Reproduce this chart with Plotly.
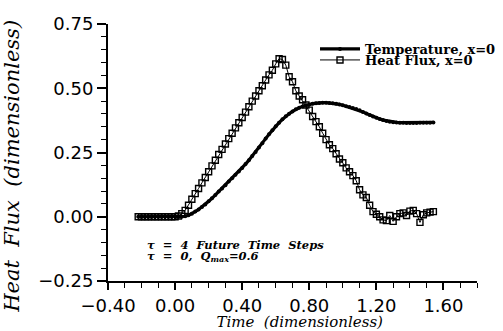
import plotly.graph_objects as go

time = [-0.22, -0.20, -0.18, -0.16, -0.14, -0.12, -0.10, -0.08, -0.06, -0.04,
        -0.02, 0.00, 0.02, 0.04, 0.06, 0.08, 0.10, 0.12, 0.14, 0.16,
        0.18, 0.20, 0.22, 0.24, 0.26, 0.28, 0.30, 0.32, 0.34, 0.36,
        0.38, 0.40, 0.42, 0.44, 0.46, 0.48, 0.50, 0.52, 0.54, 0.56,
        0.58, 0.60, 0.62, 0.64, 0.66, 0.68, 0.70, 0.72, 0.74, 0.76,
        0.78, 0.80, 0.82, 0.84, 0.86, 0.88, 0.90, 0.92, 0.94, 0.96,
        0.98, 1.00, 1.02, 1.04, 1.06, 1.08, 1.10, 1.12, 1.14, 1.16,
        1.18, 1.20, 1.22, 1.24, 1.26, 1.28, 1.30, 1.32, 1.34, 1.36,
        1.38, 1.40, 1.42, 1.44, 1.46, 1.48, 1.50, 1.52, 1.54]

temperature = [0, 0, 0, 0, 0, 0, 0, 0, 0, 0,
               0, 0, 0, 0, 0.002, 0.006, 0.012, 0.02, 0.028, 0.038,
               0.048, 0.06, 0.072, 0.085, 0.098, 0.11, 0.123, 0.137, 0.15, 0.163,
               0.176, 0.19, 0.205, 0.22, 0.236, 0.252, 0.269, 0.286, 0.304, 0.321,
               0.337, 0.352, 0.366, 0.379, 0.391, 0.401, 0.41, 0.418, 0.424, 0.429,
               0.434, 0.437, 0.44, 0.442, 0.443, 0.444, 0.444, 0.443, 0.442, 0.44,
               0.437, 0.434, 0.43, 0.427, 0.423, 0.419, 0.414, 0.408, 0.402, 0.396,
               0.39, 0.385, 0.38, 0.376, 0.373, 0.37, 0.368, 0.367, 0.366, 0.366,
               0.365, 0.365, 0.365, 0.365, 0.366, 0.366, 0.366, 0.366, 0.367]

heat_flux = [0, 0, 0, 0, 0, 0, 0, 0, 0, 0,
             0, 0, 0.003, 0.012, 0.025, 0.045, 0.068, 0.09, 0.11, 0.132,
             0.153, 0.175, 0.198, 0.22, 0.242, 0.262, 0.283, 0.304, 0.325, 0.346,
             0.366, 0.386, 0.407, 0.428, 0.45, 0.47, 0.49, 0.51, 0.532, 0.552,
             0.57, 0.595, 0.615, 0.612, 0.59, 0.545, 0.525, 0.49, 0.47, 0.455,
             0.435, 0.415, 0.39, 0.37, 0.35, 0.325, 0.30, 0.28, 0.265, 0.245,
             0.225, 0.21, 0.19, 0.175, 0.16, 0.14, 0.105, 0.085, 0.075, 0.045,
             0.02, 0.01, 0.0, -0.012, -0.015, 0.005, -0.018, 0.0, 0.012, 0.015,
             0.005, 0.022, 0.025, 0.012, -0.022, 0.008, 0.015, 0.018, 0.02]

x_tickvals = [-0.40, 0.00, 0.40, 0.80, 1.20, 1.60]
y_tickvals = [-0.25, 0.00, 0.25, 0.50, 0.75]

fig = go.Figure()
fig.add_trace(go.Scatter(
    x=time, y=temperature, mode="lines+markers", name="Temperature, x=0",
    line=dict(color="black", width=3.2),
    marker=dict(symbol="circle", size=4, color="black"),
    legend="legend"))
fig.add_trace(go.Scatter(
    x=time, y=heat_flux, mode="lines+markers", name="Heat Flux, x=0",
    line=dict(color="black", width=1),
    marker=dict(symbol="square-open", size=6, color="black", line=dict(width=1.4)),
    legend="legend2"))

axis_font = dict(family="DejaVu Sans", size=18, color="black")
legend_font = dict(family="DejaVu Serif", size=13, color="black", weight="bold")

fig.update_layout(
    width=503, height=331,
    margin=dict(l=108, r=2, t=24, b=50),
    paper_bgcolor="white", plot_bgcolor="white",
    xaxis=dict(
        range=[-0.40, 1.80], tickvals=x_tickvals, tickformat=".2f",
        ticks="outside", ticklen=7, tickwidth=1.5, tickcolor="black",
        minor=dict(dtick=0.1, tick0=-0.4, ticks="outside", ticklen=5, tickwidth=1.2, tickcolor="black"),
        showline=True, linecolor="black", linewidth=2, showgrid=False, zeroline=False,
        tickfont=axis_font,
        title=dict(text="&nbsp;&nbsp;&nbsp;<i>Time  (dimensionless)</i>", font=dict(family="DejaVu Serif", size=15, color="black"), standoff=2),
    ),
    yaxis=dict(
        range=[-0.25, 0.75], tickvals=y_tickvals, tickformat=".2f",
        ticks="outside", ticklen=9, tickwidth=1.5, tickcolor="black",
        minor=dict(dtick=0.05, tick0=-0.25, ticks="outside", ticklen=5, tickwidth=1.2, tickcolor="black"),
        showline=True, linecolor="black", linewidth=2, showgrid=False, zeroline=False,
        tickfont=axis_font,
        title=dict(text="<i>Heat  Flux  (dimensionless)</i>&nbsp;&nbsp;&nbsp;&nbsp;", font=dict(family="DejaVu Serif", size=21, color="black"), standoff=13),
    ),
    legend=dict(x=0.561, y=0.903, xanchor="left", yanchor="middle", bgcolor="rgba(0,0,0,0)",
                font=legend_font, itemwidth=40, tracegroupgap=0),
    legend2=dict(x=0.561, y=0.86, xanchor="left", yanchor="middle", bgcolor="rgba(0,0,0,0)",
                 font=legend_font, itemwidth=40, tracegroupgap=0),
    showlegend=True,
)

note_font = dict(family="DejaVu Serif", size=11.5, color="black", weight="bold", style="italic")
fig.add_annotation(x=-0.18, y=-0.11, xref="x", yref="y", xanchor="left", yanchor="middle",
                   text="τ  =  4  Future  Time  Steps", showarrow=False, font=note_font)
fig.add_annotation(x=-0.18, y=-0.155, xref="x", yref="y", xanchor="left", yanchor="middle",
                   text="τ  =  0,  Q<sub>max</sub>=0.6", showarrow=False, font=note_font)

fig.write_html("out.html", config={"displayModeBar": False},
               post_script="document.body.style.margin='0';document.body.style.overflow='hidden';")
